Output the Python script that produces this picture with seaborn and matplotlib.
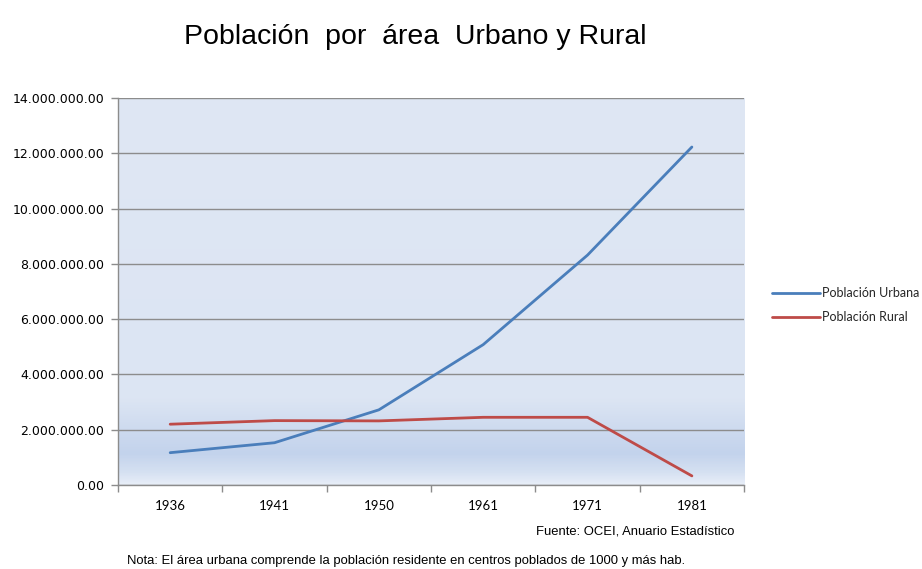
import numpy as np
import pandas as pd
import matplotlib
matplotlib.use("Agg")
import matplotlib.pyplot as plt
from matplotlib.colors import LinearSegmentedColormap
from matplotlib.ticker import FuncFormatter, FixedLocator, NullFormatter
import seaborn as sns

years = ["1936", "1941", "1950", "1961", "1971", "1981"]
urbana = [1170000, 1530000, 2720000, 5080000, 8320000, 12230000]
rural = [2200000, 2330000, 2320000, 2450000, 2450000, 330000]
series_names = ["Población Urbana", "Población Rural"]
y_ticks = [0, 2000000, 4000000, 6000000, 8000000, 10000000, 12000000, 14000000]

df = pd.DataFrame({
    "Año": years * 2,
    "Valor": urbana + rural,
    "Serie": [series_names[0]] * len(years) + [series_names[1]] * len(years),
})

sns.set_theme(style="white")
plt.rcParams["font.family"] = ["DejaVu Sans"]

fig = plt.figure(figsize=(9.22, 5.69), dpi=100)
ax = fig.add_axes([0.128, 0.1476, 0.679, 0.680])

# gradient background
stops = [(0.0, "#E8EEF8"), (0.03, "#D6E1F2"), (0.08, "#C3D3EC"), (0.14, "#CDDAEF"),
         (0.22, "#DCE5F3"), (1.0, "#DFE7F4")]
cmap = LinearSegmentedColormap.from_list("bg", stops)
grad = np.linspace(0, 1, 512).reshape(-1, 1)
ax.imshow(grad, cmap=cmap, aspect="auto", extent=[0, 1, 0, 1], origin="lower",
          transform=ax.transAxes, zorder=0)

sns.lineplot(data=df, x="Año", y="Valor", hue="Serie", sort=False,
             palette=["#4A7EBB", "#BE4B48"], linewidth=2.0, ax=ax, zorder=3,
             legend=True)

ax.set_xlim(-0.5, len(years) - 0.5)
ax.set_ylim(0, 14000000)
ax.set_yticks(y_ticks)
ax.yaxis.set_major_formatter(FuncFormatter(lambda v, p: f"{v:,.2f}".replace(",", ".")))
ax.grid(axis="y", color="#8C8C8C", linewidth=1.0, zorder=1)
ax.set_axisbelow(False)
for gl in ax.get_ygridlines():
    gl.set_zorder(1)

ax.set_xticks(range(len(years)))
ax.set_xticklabels(years)
ax.xaxis.set_minor_locator(FixedLocator(np.arange(-0.5, len(years), 1.0)))
ax.xaxis.set_minor_formatter(NullFormatter())
ax.tick_params(axis="x", which="major", length=0, pad=11, labelsize=9.5, labelcolor="#000000")
ax.tick_params(axis="x", which="minor", bottom=True, length=5, width=1, color="#8C8C8C")
ax.tick_params(axis="y", left=True, length=5, width=1, color="#8C8C8C", pad=5,
               labelsize=9, labelcolor="#000000")
for lab in ax.get_xticklabels():
    lab.set_fontfamily(["Lato", "DejaVu Sans"])

ax.set_xlabel("")
ax.set_ylabel("")
for s in ["top", "right"]:
    ax.spines[s].set_visible(False)
for s in ["left", "bottom"]:
    ax.spines[s].set_color("#8C8C8C")
    ax.spines[s].set_linewidth(1.0)

leg = ax.legend(loc="center left", bbox_to_anchor=(1.027, 0.465), frameon=False,
                handlelength=3.8, handletextpad=0.15, labelspacing=0.95,
                prop={"family": ["Lato", "DejaVu Sans"], "size": 9})

fig.text(0.45, 0.935, "Población  por  área  Urbano y Rural", ha="center", va="center",
         fontsize=20.5, family=["Liberation Sans", "DejaVu Sans"], color="#000000")
fig.text(0.797, 0.066, "Fuente: OCEI, Anuario Estadístico", ha="right", va="center",
         fontsize=9.4, family=["Liberation Sans", "DejaVu Sans"], color="#000000")
fig.text(0.138, 0.014, "Nota: El área urbana comprende la población residente en centros poblados de 1000 y más hab.",
         ha="left", va="center", fontsize=9.4, family=["Liberation Sans", "DejaVu Sans"], color="#000000")

fig.savefig("out.png", dpi=100, facecolor="white")
